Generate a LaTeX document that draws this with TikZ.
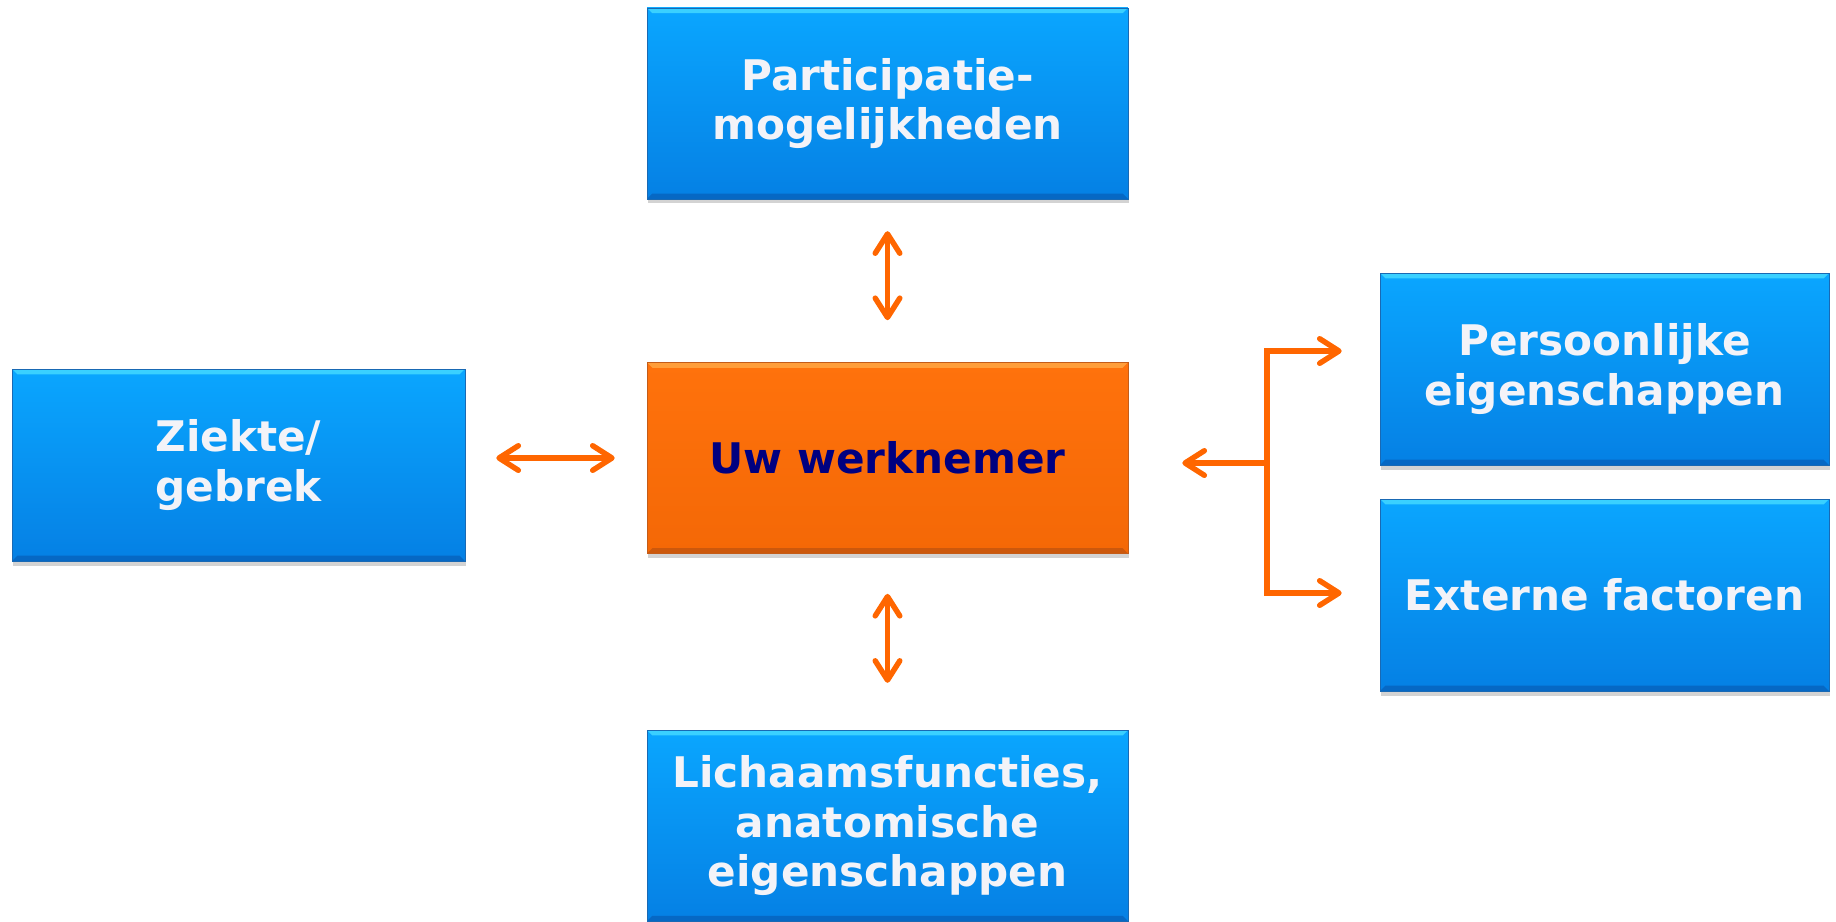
\documentclass[tikz,border=0pt]{standalone}
\usepackage{fontspec}
\setmainfont{DejaVu Sans}
\usepackage{tikz}
\usetikzlibrary{arrows.meta,positioning,shadows}
\definecolor{boxblue}{RGB}{10,166,255}
\definecolor{boxbluedark}{RGB}{5,128,228}
\definecolor{boxedge}{RGB}{25,105,180}
\definecolor{bluehigh}{RGB}{58,208,255}
\definecolor{bluelow}{RGB}{6,104,196}
\definecolor{hubtop}{RGB}{255,114,12}
\definecolor{hubbottom}{RGB}{244,104,6}
\definecolor{hubedge}{RGB}{196,92,24}
\definecolor{hubhigh}{RGB}{255,158,58}
\definecolor{hublow}{RGB}{204,88,12}
\definecolor{navytext}{RGB}{0,0,128}
\definecolor{paletext}{RGB}{243,243,248}
\definecolor{linkorange}{RGB}{255,102,0}
% bevel strips along the top and bottom edge of a box
\newcommand{\bevelpic}[2]{%
  \fill[#1] (path picture bounding box.north west) -- (path picture bounding box.north east)
    -- ([shift={(-3pt,-3pt)}]path picture bounding box.north east)
    -- ([shift={(3pt,-3pt)}]path picture bounding box.north west) -- cycle;
  \fill[#2] (path picture bounding box.south west) -- (path picture bounding box.south east)
    -- ([shift={(-3pt,3pt)}]path picture bounding box.south east)
    -- ([shift={(3pt,3pt)}]path picture bounding box.south west) -- cycle;}
\tikzset{%
  factor/.style={rectangle,draw=boxedge,top color=boxblue,bottom color=boxbluedark,thin,
    text=paletext,align=center,inner sep=0pt,minimum height=3.82cm,
    font=\bfseries\fontsize{24}{28}\selectfont,
    path picture={\bevelpic{bluehigh}{bluelow}},
    drop shadow={shadow xshift=0.6pt,shadow yshift=-2.6pt,opacity=0.35}},
  worker/.style={factor,draw=hubedge,top color=hubtop,bottom color=hubbottom,text=navytext,
    path picture={\bevelpic{hubhigh}{hublow}}},
  link/.style={draw=linkorange,line width=3.1pt}%
}

\begin{document}
\begin{tikzpicture}[x=0.02cm,y=-0.02cm,>={Straight Barb[length=11pt,width=14pt,round]}]
      \useasboundingbox (0,0) rectangle (1836,921);

      \node (werknemer) [worker, minimum width=9.62cm] at (887.5,458) {Uw werknemer};
      \node (participatie) [factor, minimum width=9.62cm, above=3.26cm of werknemer] {Participatie-\\mogelijkheden};
      \node (lichaam) [factor, minimum width=9.62cm, below=3.52cm of werknemer] {Lichaamsfuncties,\\anatomische\\eigenschappen};
      \node (ziekte) [factor, minimum width=9.06cm, minimum height=3.84cm] at (238.5,465) {Ziekte/\\gebrek};
      \node (persoon) [factor, minimum width=8.98cm, minimum height=3.84cm] at (1604.5,369) {Persoonlijke\\eigenschappen};
      \node (extern) [factor, minimum width=8.98cm, minimum height=3.84cm] at (1604.5,595) {Externe factoren};

      \coordinate (fork) at (1267,463);
      \coordinate (forkup) at (1267,351);
      \coordinate (forkdown) at (1267,593);

      \path (participatie) edge[link, <->, shorten <=0.64cm, shorten >=0.84cm] (werknemer)
            (werknemer) edge[link, <->, shorten <=0.8cm, shorten >=0.94cm] (lichaam);
      \draw[link, <->, shorten <=0.62cm, shorten >=0.64cm] (werknemer.west -| ziekte.east) -- (werknemer.west);

      \draw[link, ->, shorten >=1.08cm] (fork) -- (fork -| werknemer.east);
      \draw[link, <->, shorten <=0.76cm, shorten >=0.76cm]
            (forkup -| persoon.west) -- (forkup) -- (forkdown) -- (forkdown -| extern.west);
    \end{tikzpicture}
\end{document}
